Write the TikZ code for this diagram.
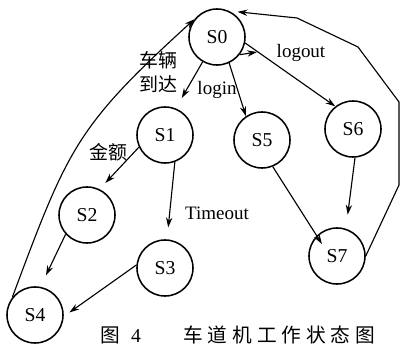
\documentclass[tikz,border=0pt]{standalone}
\usepackage{fontspec}
\setmainfont{Liberation Serif}
\newfontfamily\cjk{Noto Sans CJK SC}
\newfontfamily\cjkcap[LetterSpace=25]{Noto Sans CJK SC}
\usetikzlibrary{arrows.meta}
\tikzstyle{statenode} = [draw, circle, line width=1.1pt, minimum size=1.4cm, inner sep=0pt, font=\fontsize{14}{16}\selectfont]
\tikzstyle{trans} = [-{Stealth[length=7pt,width=4.5pt]}, line width=0.8pt]
\tikzstyle{translabel} = [inner sep=0pt, align=center, font=\fontsize{13.5}{17}\selectfont]
\tikzstyle{figcaption} = [inner sep=0pt, anchor=west, font=\fontsize{14}{16}\selectfont]

\begin{document}
\begin{tikzpicture}[x=0.025cm, y=-0.025cm]
	\useasboundingbox (0,0) rectangle (400,347);
	\node[statenode] (S0) at (217,37) {S0};
	\node[statenode] (S1) at (165,135) {S1};
	\node[statenode] (S5) at (262,140) {S5};
	\node[statenode] (S6) at (353,129) {S6};
	\node[statenode] (S2) at (87,215) {S2};
	\node[statenode] (S3) at (165,268) {S3};
	\node[statenode] (S7) at (337,256) {S7};
	\node[statenode] (S4) at (35,315) {S4};
	\coordinate (stub) at (257,52);
	\draw[trans, shorten >=8.5pt] (S0.240) -- (S1.68);
	\draw[trans] (S0.295) -- (S5.124);
	\draw[trans] (S0.-12) -- (S6.128);
	\draw[trans] (S0.-38) -- (stub);
	\draw[trans, shorten >=6pt] (S1.205) -- (S2.64);
	\draw[trans, shorten >=8.5pt] (S1.290) -- (S3.86);
	\draw[trans, shorten >=9pt] (S2.222) -- (S4.79);
	\draw[trans, shorten >=5pt] (S3.174) -- (S4.-3);
	\draw[trans, shorten >=-7pt] (S5.292) -- (S7.135);
	\draw[trans, shorten >=10pt] (S6.274) -- (S7.72);
	\draw[trans] (S4.142) .. controls (68,148) and (76,127) .. (S0.142);
	\draw[trans, shorten >=6pt] (S7.east) -- (399,185) -- (399,102) -- (358,47) -- (297,18) -- (S0.65);
	\node[translabel] (arrive) at (158,72) {\cjk 车辆\\\cjk 到达};
	\node[translabel] (login) at (217,90) {login};
	\node[translabel] (logout) at (301,53) {logout};
	\node[translabel] (amount) at (108,152) {\cjk 金额};
	\node[translabel] (timeout) at (217,213) {Timeout};
	\node[figcaption] (cap) at (100,335) {{\cjkcap 图}\hspace{8pt}4\hspace{30pt}{\cjkcap 车道机工作状态图}};
\end{tikzpicture}
\end{document}
